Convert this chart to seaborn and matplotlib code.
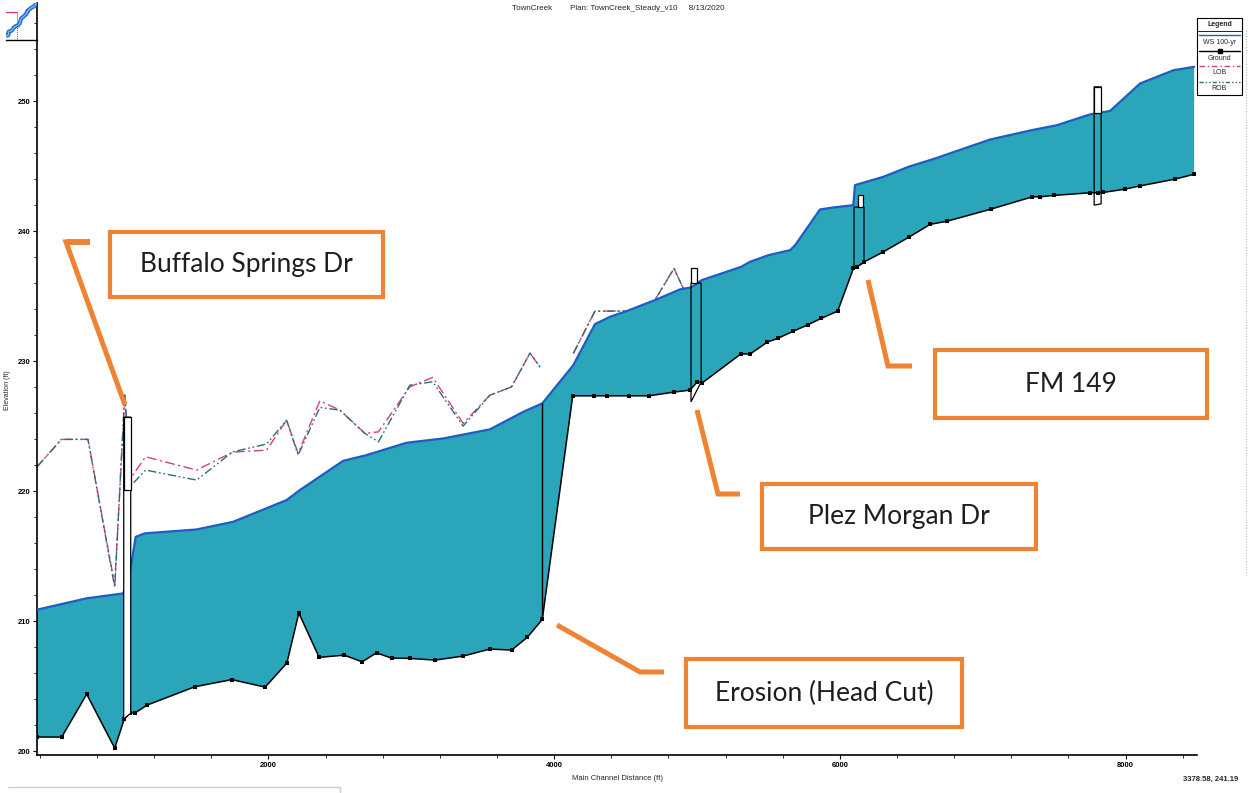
import numpy as np
import pandas as pd
import matplotlib
matplotlib.use("Agg")
import matplotlib.pyplot as plt
import seaborn as sns
from matplotlib.patches import Rectangle, Polygon
from matplotlib.lines import Line2D

# ---------------- profile data (station ft, elevation ft) ----------------
ground_sta = [380, 553, 728, 924, 991, 1029, 1068, 1151, 1485, 1744, 1977, 2129,
              2213, 2355, 2530, 2656, 2757, 2862, 2990, 3165, 3364, 3550, 3702,
              3812, 3917, 4130, 4281, 4372, 4522, 4664, 4841, 4951, 5002, 5037,
              5308, 5371, 5492, 5565, 5670, 5775, 5868, 5985, 6095, 6121, 6172,
              6305, 6487, 6632, 6753, 7057, 7348, 7402, 7500, 7752, 7806, 7845,
              7997, 8102, 8347, 8480]
ground_elev = [201.08, 201.08, 204.38, 200.23, 202.46, 202.92, 202.95, 203.54,
               204.95, 205.50, 204.92, 206.77, 210.62, 207.21, 207.38, 206.87,
               207.56, 207.15, 207.13, 207.00, 207.31, 207.85, 207.77, 208.75,
               210.13, 227.33, 227.33, 227.33, 227.33, 227.33, 227.62, 227.77,
               228.41, 228.33, 230.56, 230.54, 231.46, 231.75, 232.28, 232.79,
               233.28, 233.85, 237.13, 237.25, 237.64, 238.41, 239.56, 240.52,
               240.77, 241.69, 242.64, 242.64, 242.75, 242.95, 242.95, 242.98,
               243.23, 243.48, 244.00, 244.38]

ws_sta = [380, 726, 982, 1017, 1071, 1134, 1497, 1753, 2127, 2220, 2523, 2687,
          2967, 3223, 3550, 3784, 3917, 4134, 4286, 4391, 4508, 4718, 4881,
          4958, 5033, 5308, 5371, 5500, 5652, 5687, 5861, 5954, 6094, 6106,
          6305, 6480, 6667, 7052, 7344, 7519, 7752, 7892, 8102, 8336, 8480]
ws_elev = [210.88, 211.75, 212.13, 212.90, 216.48, 216.75, 217.05, 217.64,
           219.31, 220.08, 222.33, 222.77, 223.72, 224.05, 224.75, 226.10,
           226.75, 229.69, 232.85, 233.41, 233.85, 234.75, 235.52, 235.67,
           236.23, 237.25, 237.64, 238.15, 238.54, 238.92, 241.67, 241.82,
           242.00, 243.54, 244.18, 244.95, 245.59, 247.05, 247.77, 248.15,
           248.98, 249.25, 251.36, 252.38, 252.64]

bank_sta = [380, 551, 737, 924, 994, 1041, 1140, 1497, 1750, 1987, 2127, 2208,
            2360, 2500, 2675, 2770, 2990, 3150, 3363, 3550, 3702, 3831, 3901,
            4134, 4286, 4659, 4839, 4958, 5021, 5322, 5756, 5873, 6177, 6305,
            6457, 6632, 6749, 7344, 7846, 8055, 8480]
lob_elev = [221.87, 223.98, 223.98, 212.77, 227.23, 221.08, 222.64, 221.62,
            223.00, 223.15, 225.46, 222.90, 226.95, 226.23, 224.44, 224.56,
            228.02, 228.75, 225.21, 227.38, 228.02, 230.62, 229.54,
            230.59, 233.85, 233.85, 237.13, 234.31, 234.05, 237.13, 237.13,
            240.46, 240.46, 243.72, 243.72, 243.41, 244.31, 247.00, 247.00,
            250.21, 250.25]
rob_elev = [221.87, 223.98, 223.98, 212.60, 227.40, 220.46, 221.62, 220.85,
            223.02, 223.62, 225.46, 222.77, 226.44, 226.23, 224.44, 223.79,
            228.15, 228.41, 225.00, 227.38, 228.02, 230.62, 229.54,
            230.59, 233.85, 233.85, 237.13, 234.31, 234.05, 237.13, 237.13,
            240.46, 240.46, 243.72, 243.72, 243.41, 244.31, 247.00, 247.00,
            250.21, 250.25]
# bank line is broken across the head cut
bank_segment = [0] * 23 + [1] * 18

# bridges: left/right station, deck top, invert left/right, deck box
bridge_names = ["Buffalo Springs Dr", "Plez Morgan Dr", "FM 149", "US Bridge"]
bridge_left = [987, 4958, 6099, 7780]
bridge_right = [1036, 5029, 6169, 7829]
bridge_top = [225.69, 236.00, 241.85, 251.10]
bridge_bot_left = [202.46, 226.87, 237.15, 242.00]
bridge_bot_right = [202.92, 228.40, 237.60, 242.10]
deck_left = [987, 4958, 6125, 7780]
deck_right = [1036, 5000, 6160, 7829]
deck_top = [225.69, 237.15, 242.77, 251.10]
deck_bot = [220.10, 236.00, 241.85, 249.10]

headcut_sta = 3917
cursor_sta, cursor_elev = 3378.58, 241.19

callout_text = ["Buffalo Springs Dr", "FM 149", "Plez Morgan Dr", "Erosion (Head Cut)"]

x_ticks = [2000, 4000, 6000, 8000]
y_ticks = [200, 210, 220, 230, 240, 250]

# ---------------- styling ----------------
TEAL = "#2aa5b9"
WS_BLUE = "#1f5cc4"
LOB_PINK = "#d2407e"
ROB_TEAL = "#2d6b78"
ORANGE = "#ef8333"

sns.set_theme(style="white")
plt.rcParams["font.family"] = ["Liberation Sans", "DejaVu Sans"]

W, H = 1251, 793
fig = plt.figure(figsize=(W / 100, H / 100), dpi=100)
fig.patch.set_facecolor("white")


def fx(px):
    return px / W


def fy(py):
    return 1 - py / H


ax = fig.add_axes([fx(37), fy(755), fx(1197) - fx(37), fy(3) - fy(755)])
ax.set_facecolor("white")

# water between surface and ground
poly_x = list(ws_sta) + list(ground_sta[::-1])
poly_y = list(ws_elev) + list(ground_elev[::-1])
ax.fill(poly_x, poly_y, color=TEAL, lw=0, zorder=2)

bank_df = pd.DataFrame({"sta": bank_sta, "lob": lob_elev, "rob": rob_elev,
                        "seg": bank_segment})
sns.lineplot(data=bank_df, x="sta", y="lob", units="seg", estimator=None,
             sort=False, color=LOB_PINK, lw=1.0, linestyle=(0, (7, 2.5, 1.5, 2.5)),
             ax=ax, zorder=1)
sns.lineplot(data=bank_df, x="sta", y="rob", units="seg", estimator=None,
             sort=False, color=ROB_TEAL, lw=1.0,
             linestyle=(0, (6, 2, 1.2, 2, 1.2, 2)), ax=ax, zorder=1.5)

sns.lineplot(x=ws_sta, y=ws_elev, sort=False, color=WS_BLUE, lw=1.6, ax=ax, zorder=4)
sns.lineplot(x=ground_sta, y=ground_elev, sort=False, color="black", lw=1.1,
             marker="s", markersize=3.2, markeredgewidth=0, ax=ax, zorder=5)

# vertical section line at the head cut
ws_at_cut = ws_elev[ws_sta.index(headcut_sta)]
gr_at_cut = ground_elev[ground_sta.index(headcut_sta)]
ax.vlines(headcut_sta, gr_at_cut, ws_at_cut, color="black", lw=1.0, zorder=5)

# bridges
for i, name in enumerate(bridge_names):
    xl, xr = bridge_left[i], bridge_right[i]
    body = Polygon([(xl, bridge_top[i]), (xr, bridge_top[i]),
                    (xr, bridge_bot_right[i]), (xl, bridge_bot_left[i])],
                   closed=True, fill=(i == 0), facecolor="white",
                   edgecolor="black", lw=0.9, zorder=6)
    ax.add_patch(body)
    deck = Rectangle((deck_left[i], deck_bot[i]), deck_right[i] - deck_left[i],
                     deck_top[i] - deck_bot[i], facecolor="white",
                     edgecolor="black", lw=0.9, zorder=6)
    ax.add_patch(deck)

ax.set_xlim(380, 8500)
ax.set_ylim(199.7, 257.55)
ax.set_xticks(x_ticks)
ax.set_xticks(np.arange(400, 8500, 400), minor=True)
ax.set_yticks(y_ticks)
ax.set_yticks(np.arange(200, 258, 2), minor=True)
ax.tick_params(axis="both", which="major", labelsize=5.5, length=3, width=0.8,
               direction="out", color="black", pad=2, labelcolor="black")
ax.tick_params(axis="both", which="minor", length=2, width=0.6,
               direction="out", color="black")
ax.xaxis.set_ticks_position("bottom")
ax.yaxis.set_ticks_position("left")
for s in ["top", "right"]:
    ax.spines[s].set_visible(False)
for s in ["left", "bottom"]:
    ax.spines[s].set_color("black")
    ax.spines[s].set_linewidth(1.2)
ax.set_xlabel("")
ax.set_ylabel("")
for lab in ax.get_xticklabels() + ax.get_yticklabels():
    lab.set_fontweight("bold")

fig.text(fx(617), fy(779), "Main Channel Distance (ft)", ha="center", va="center",
         fontsize=5.5)
fig.text(fx(8), fy(390), "Elevation (ft)", ha="center", va="center",
         fontsize=5, rotation=90)
fig.text(fx(618), fy(8), "TownCreek        Plan: TownCreek_Steady_v10     8/13/2020",
         ha="center", va="center", fontsize=5.8)
fig.text(fx(1238), fy(779), f"{cursor_sta:.2f}, {cursor_elev:.2f}", ha="right",
         va="center", fontsize=5.5, fontweight="bold")

# legend panel
lx0, lx1, ly0, ly1 = 1197, 1242, 18, 95
fig.add_artist(Rectangle((fx(lx0), fy(ly1)), fx(lx1) - fx(lx0), fy(ly0) - fy(ly1),
                         transform=fig.transFigure, facecolor="white",
                         edgecolor="black", lw=0.8, zorder=10))
fig.text(fx(1219.5), fy(25), "Legend", ha="center", va="center", fontsize=5,
         fontweight="bold", zorder=11)
fig.add_artist(Line2D([fx(lx0), fx(lx1)], [fy(30.5), fy(30.5)],
                      transform=fig.transFigure, color="black", lw=0.6, zorder=11))
legend_rows = [("WS 100-yr", WS_BLUE, "-", None, 35, 43),
               ("Ground", "black", "-", "s", 51, 58),
               ("LOB", LOB_PINK, (0, (4, 2, 1, 2)), None, 66, 73),
               ("ROB", ROB_TEAL, (0, (3, 1.5, 1, 1.5, 1, 1.5)), None, 81.5, 89)]
for lab, col, ls, mk, yl, yt in legend_rows:
    fig.add_artist(Line2D([fx(1199), fx(1240)], [fy(yl), fy(yl)],
                          transform=fig.transFigure, color=col, lw=1.0,
                          linestyle=ls, zorder=11))
    if mk:
        fig.add_artist(Line2D([fx(1219.5)], [fy(yl)], transform=fig.transFigure,
                              color=col, marker=mk, markersize=2.5, zorder=11))
    fig.text(fx(1219.5), fy(yt), lab, ha="center", va="center", fontsize=5,
             zorder=11)

# scroll bar guide and lower panel frame
fig.add_artist(Line2D([fx(1246), fx(1246)], [fy(30), fy(575)],
                      transform=fig.transFigure, color="#b8b8b8", lw=0.8,
                      linestyle=(0, (1, 1.5))))
fig.add_artist(Line2D([fx(8), fx(340), fx(340)], [fy(787), fy(787), fy(793)],
                      transform=fig.transFigure, color="#c8ccd8", lw=1.0))

# overview thumbnail with cursor
tax = fig.add_axes([fx(6), fy(40), fx(37) - fx(6), fy(3) - fy(40)])
tax.plot(ws_sta, ws_elev, color="#2a6fd0", lw=3.0, solid_capstyle="butt")
tax.plot(ws_sta, ws_elev, color="#7fc4f0", lw=0.8)
tax.plot([ws_sta[0], cursor_sta], [cursor_elev, cursor_elev], color="#e03060", lw=0.9)
tax.plot([cursor_sta, cursor_sta], [cursor_elev, 206], color="#c03040", lw=0.7,
         linestyle=(0, (1, 1)))
tax.set_xlim(380, 8500)
tax.set_ylim(206, 253)
tax.set_xticks([])
tax.set_yticks([])
for s in ["top", "right", "left"]:
    tax.spines[s].set_visible(False)
tax.spines["bottom"].set_color("black")
tax.spines["bottom"].set_linewidth(1.0)
tax.patch.set_alpha(0)

# callouts
callouts = [
    # text, box (x0, y0, x1, y1), leader path
    (callout_text[0], (110, 232, 383, 297), [(66, 242), (90, 242), (66, 242), (125, 405)]),
    (callout_text[1], (935, 350, 1207, 418), [(868, 280), (888, 366), (912, 366)]),
    (callout_text[2], (762, 484, 1036, 549), [(697, 410), (718, 494), (740, 494)]),
    (callout_text[3], (686, 659, 962, 727), [(557, 625), (640, 672), (664, 672)]),
]
for text, (x0, y0, x1, y1), path in callouts:
    fig.add_artist(Rectangle((fx(x0), fy(y1)), fx(x1) - fx(x0), fy(y0) - fy(y1),
                             transform=fig.transFigure, facecolor="white",
                             edgecolor=ORANGE, lw=3.0, zorder=12))
    fig.text(fx((x0 + x1) / 2), fy((y0 + y1) / 2), text, ha="center", va="center",
             fontsize=19, color="#1e1e1e", family=["Lato", "DejaVu Sans"], zorder=13)
    px = [fx(p[0]) for p in path]
    py = [fy(p[1]) for p in path]
    fig.add_artist(Line2D(px, py, transform=fig.transFigure, color=ORANGE, lw=3.6,
                          solid_capstyle="butt", solid_joinstyle="miter", zorder=12))

fig.savefig("out.png", dpi=100)
